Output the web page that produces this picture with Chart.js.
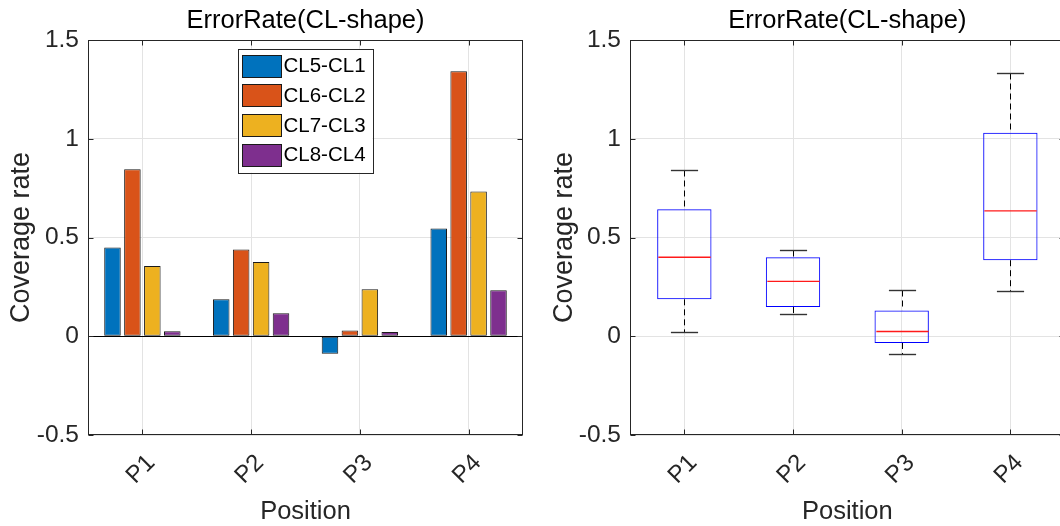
<!DOCTYPE html>
<html>
<head>
<meta charset="utf-8">
<script src="https://cdn.jsdelivr.net/npm/chart.js@4.4.1/dist/chart.umd.min.js"></script>
<style>
  html, body { margin: 0; padding: 0; background: #fff; overflow: hidden; width: 1060px; height: 526px; }
  .wrap { position: absolute; top: 0; width: 530px; height: 526px; }
</style>
</head>
<body>
<div class="wrap" style="left:0px"><canvas id="barChart"></canvas></div>
<div class="wrap" style="left:540px"><canvas id="boxChart"></canvas></div>
<script>
"use strict";

// Data
var positions = ["P1", "P2", "P3", "P4"];
var seriesLabels = ["CL5-CL1", "CL6-CL2", "CL7-CL3", "CL8-CL4"];
var cl5cl1 = [0.450, 0.187, -0.088, 0.545];
var cl6cl2 = [0.845, 0.439, 0.029, 1.342];
var cl7cl3 = [0.356, 0.376, 0.238, 0.733];
var cl8cl4 = [0.025, 0.116, 0.022, 0.233];
var seriesColors = ["#0072BD", "#D95319", "#EDB120", "#7E2F8E"];

// box plot statistics
var whiskerLow  = [0.022, 0.113, -0.088, 0.230];
var boxQ1       = [0.187, 0.148, -0.034, 0.385];
var boxMedian   = [0.400, 0.278, 0.024, 0.635];
var boxQ3       = [0.643, 0.400, 0.130, 1.030];
var whiskerHigh = [0.840, 0.435, 0.236, 1.333];

var yTicks = [-0.5, 0, 0.5, 1, 1.5];
var chartTitle = "ErrorRate(CL-shape)";
var xTitle = "Position";
var yTitle = "Coverage rate";

var FONT = "'Liberation Sans', Arial, sans-serif";
var INK = "#262626";
var GRID = "#e3e3e3";

Chart.defaults.font.family = FONT;
Chart.defaults.color = INK;

// Title above the axes
var titlePlugin = {
    id: "axTitle",
    afterDraw: function (chart) {
        var ctx = chart.ctx, ca = chart.chartArea;
        ctx.save();
        ctx.font = "25.5px " + FONT;
        ctx.fillStyle = "#000";
        ctx.textAlign = "center";
        ctx.textBaseline = "alphabetic";
        ctx.fillText(chartTitle, (ca.left + ca.right) / 2, 28);
        ctx.restore();
    }
};

// Box frame with inward ticks
var framePlugin = {
    id: "axFrame",
    afterDatasetsDraw: function (chart) {
        var ctx = chart.ctx, ca = chart.chartArea;
        var x = chart.scales.x, y = chart.scales.y;
        var l = Math.round(ca.left) + 0.5, r = Math.round(ca.right) - 0.5;
        var t = Math.round(ca.top) + 0.5, b = Math.round(ca.bottom) - 0.5;
        ctx.save();
        ctx.strokeStyle = INK;
        ctx.lineWidth = 1;
        ctx.strokeRect(l, t, r - l, b - t);
        ctx.beginPath();
        positions.forEach(function (p, i) {
            var px = Math.round(x.getPixelForValue(i)) + 0.5;
            ctx.moveTo(px, b); ctx.lineTo(px, b - 5);
            ctx.moveTo(px, t); ctx.lineTo(px, t + 5);
        });
        yTicks.forEach(function (v) {
            var py = Math.round(y.getPixelForValue(v)) + 0.5;
            ctx.moveTo(l, py); ctx.lineTo(l + 5, py);
            ctx.moveTo(r, py); ctx.lineTo(r - 5, py);
        });
        ctx.stroke();
        ctx.restore();
    }
};

// Bar baseline at zero
var baselinePlugin = {
    id: "baseline",
    afterDatasetsDraw: function (chart) {
        var ctx = chart.ctx, ca = chart.chartArea;
        var py = Math.round(chart.scales.y.getPixelForValue(0)) + 0.5;
        ctx.save();
        ctx.strokeStyle = "#000";
        ctx.lineWidth = 1;
        ctx.beginPath();
        ctx.moveTo(ca.left, py); ctx.lineTo(ca.right, py);
        ctx.stroke();
        ctx.restore();
    }
};

// Legend box inside the left axes
var legendPlugin = {
    id: "boxLegend",
    afterDraw: function (chart) {
        var ctx = chart.ctx, ca = chart.chartArea;
        var x0 = ca.left + 149.5, y0 = ca.top + 8.7, w = 135, h = 124;
        ctx.save();
        ctx.fillStyle = "#fff";
        ctx.fillRect(x0, y0, w, h);
        ctx.strokeStyle = INK;
        ctx.lineWidth = 1;
        ctx.strokeRect(Math.round(x0) + 0.5, Math.round(y0) + 0.5, w, h);
        ctx.font = "20.5px " + FONT;
        ctx.textBaseline = "middle";
        ctx.textAlign = "left";
        chart.data.datasets.forEach(function (ds, i) {
            var cy = y0 + 17 + i * 29.7;
            var sx = Math.round(x0 + 4) + 0.5, sy = Math.round(cy - 11) + 0.5;
            ctx.fillStyle = ds.backgroundColor;
            ctx.fillRect(sx, sy, 39, 22);
            ctx.strokeStyle = "#1a1a1a";
            ctx.strokeRect(sx, sy, 39, 22);
            ctx.fillStyle = "#000";
            ctx.fillText(ds.label, x0 + 46, cy + 1);
        });
        ctx.restore();
    }
};

// Whiskers, caps and medians for the box plot
var boxPartsPlugin = {
    id: "boxParts",
    afterDatasetsDraw: function (chart) {
        var ctx = chart.ctx;
        var x = chart.scales.x, y = chart.scales.y;
        var meta = chart.getDatasetMeta(0);
        function seg(x1, y1, x2, y2) {
            ctx.beginPath(); ctx.moveTo(x1, y1); ctx.lineTo(x2, y2); ctx.stroke();
        }
        ctx.save();
        positions.forEach(function (p, i) {
            var cx = Math.round(x.getPixelForValue(i)) + 0.5;
            var half = meta.data[i].width / 2;
            var yHi = Math.round(y.getPixelForValue(whiskerHigh[i])) + 0.5;
            var yQ3 = y.getPixelForValue(boxQ3[i]);
            var yQ1 = y.getPixelForValue(boxQ1[i]);
            var yLo = Math.round(y.getPixelForValue(whiskerLow[i])) + 0.5;
            var yMed = y.getPixelForValue(boxMedian[i]);
            ctx.lineWidth = 1;
            ctx.strokeStyle = "#000";
            ctx.setLineDash([6, 4]);
            seg(cx, yHi, cx, yQ3);
            seg(cx, yQ1, cx, yLo);
            ctx.setLineDash([]);
            ctx.strokeStyle = "#333";
            ctx.lineWidth = 1.4;
            seg(cx - half / 2, yHi, cx + half / 2, yHi);
            seg(cx - half / 2, yLo, cx + half / 2, yLo);
            ctx.lineWidth = 1.4;
            ctx.strokeStyle = "#ff1a1a";
            seg(cx - half + 1, yMed, cx + half - 1, yMed);
        });
        ctx.restore();
    }
};

function axes(yWidth, yTitlePad) {
    return {
        x: {
            offset: true,
            grid: { offset: false, color: GRID, drawTicks: false },
            border: { display: false },
            ticks: { minRotation: 45, maxRotation: 45, padding: 14, labelOffset: 9, color: INK, font: { size: 24 } },
            title: { display: true, text: xTitle, color: INK, font: { size: 25.5, lineHeight: 1 }, padding: { top: 0, bottom: 1.5 } },
            afterFit: function (s) { s.height = 91; }
        },
        y: {
            min: -0.5,
            max: 1.5,
            grid: { color: GRID, drawTicks: false },
            border: { display: false },
            afterBuildTicks: function (s) { s.ticks = yTicks.map(function (v) { return { value: v }; }); },
            ticks: { padding: 9, color: INK, font: { size: 24.5 }, callback: function (v) { return String(v); } },
            title: { display: true, text: yTitle, color: INK, font: { size: 27, lineHeight: 1 }, padding: { top: yTitlePad, bottom: 0 } },
            afterFit: function (s) { s.width = yWidth; }
        }
    };
}

// Grouped bars
var barSeries = [cl5cl1, cl6cl2, cl7cl3, cl8cl4];
new Chart(document.getElementById("barChart"), {
    type: "bar",
    data: {
        labels: positions,
        datasets: barSeries.map(function (vals, i) {
            return {
                label: seriesLabels[i],
                data: vals,
                backgroundColor: seriesColors[i],
                borderColor: "#1a1a1a",
                borderWidth: 1,
                borderSkipped: false,
                categoryPercentage: 0.733,
                barPercentage: 0.83
            };
        })
    },
    options: {
        responsive: true,
        maintainAspectRatio: false,
        animation: false,
        layout: { padding: { top: 40, right: 7, left: 0, bottom: 0 } },
        plugins: { legend: { display: false }, tooltip: { enabled: false } },
        scales: axes(88, 8.5)
    },
    plugins: [titlePlugin, baselinePlugin, framePlugin, legendPlugin]
});

// Box plot: boxes as floating bars, rest drawn by plugin
new Chart(document.getElementById("boxChart"), {
    type: "bar",
    data: {
        labels: positions,
        datasets: [{
            label: "IQR",
            data: positions.map(function (p, i) { return [boxQ1[i], boxQ3[i]]; }),
            backgroundColor: "rgba(0,0,0,0)",
            borderColor: "#0000ff",
            borderWidth: 1,
            borderSkipped: false,
            categoryPercentage: 1,
            barPercentage: 0.5
        }]
    },
    options: {
        responsive: true,
        maintainAspectRatio: false,
        animation: false,
        layout: { padding: { top: 40, right: 5.3, left: 0, bottom: 0 } },
        plugins: { legend: { display: false }, tooltip: { enabled: false } },
        scales: axes(90, 11)
    },
    plugins: [titlePlugin, boxPartsPlugin, framePlugin]
});
</script>
</body>
</html>
